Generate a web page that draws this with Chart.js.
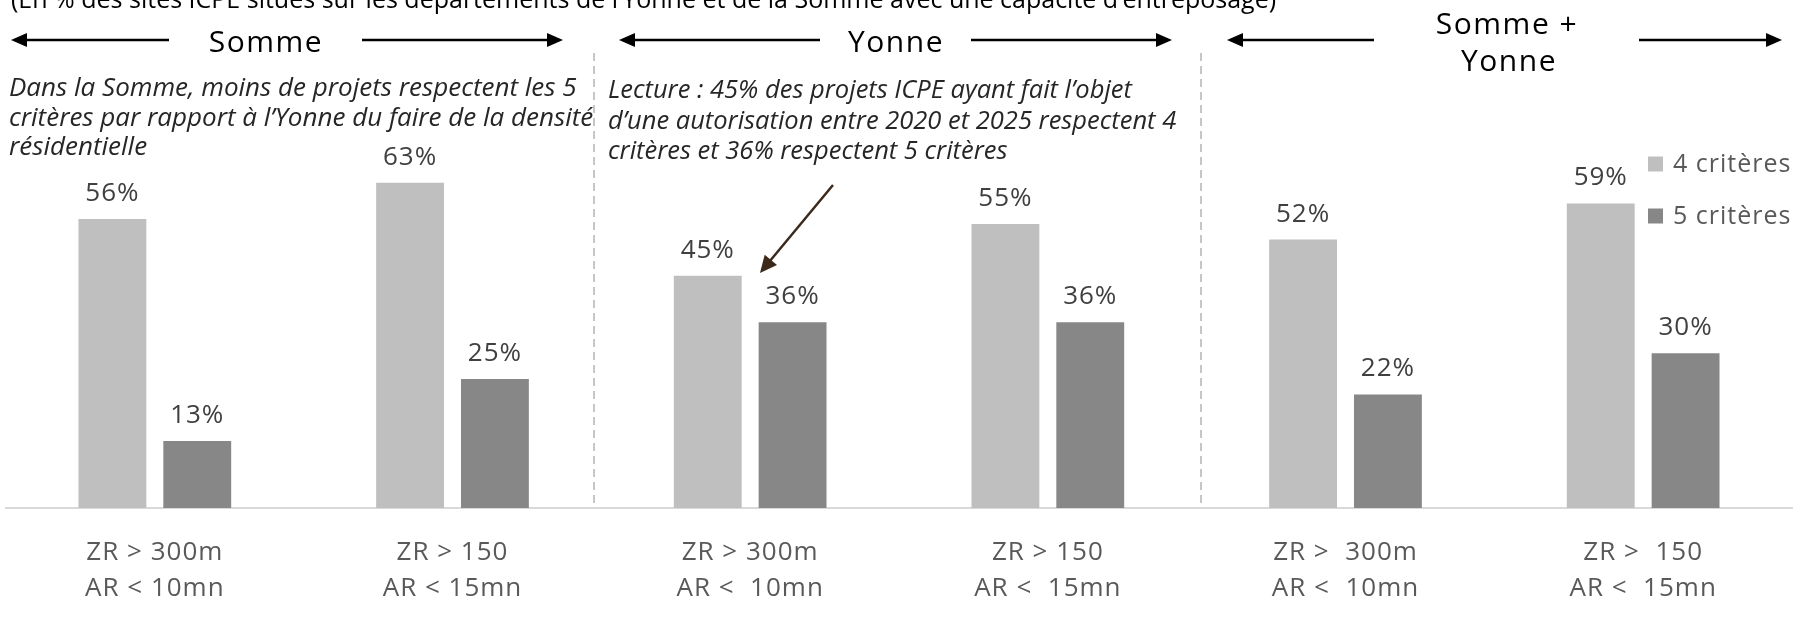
<!DOCTYPE html>
<html lang="fr">
<head>
  <meta charset="UTF-8">
  <title>Critères ZR / AR - Somme et Yonne</title>
  <script src="https://cdn.jsdelivr.net/npm/chart.js"></script>
  <style>
    * { margin: 0; padding: 0; box-sizing: border-box; }
    body { background: #fff; width: 1795px; height: 627px; overflow: hidden; }
    #chart { display: block; }
  </style>
</head>
<body>
  <canvas id="chart" width="1795" height="627"></canvas>

  <script>
    // --- Data ---
    const categories = [
      ['ZR > 300m', 'AR < 10mn'],
      ['ZR > 150', 'AR < 15mn'],
      ['ZR > 300m', 'AR <  10mn'],
      ['ZR > 150', 'AR <  15mn'],
      ['ZR >  300m', 'AR <  10mn'],
      ['ZR >  150', 'AR <  15mn']
    ];
    const crit4 = [56, 63, 45, 55, 52, 59];
    const crit5 = [13, 25, 36, 36, 22, 30];
    const seriesNames = ['4 critères', '5 critères'];
    const seriesColors = ['#bfbfbf', '#878787'];

    const subtitle = '(En % des sites ICPE situés sur les départements de l\u2019Yonne et de la Somme avec une capacité d\u2019entreposage)';
    const noteLeft = [
      'Dans la Somme, moins de projets respectent les 5',
      'critères par rapport à l\u2019Yonne du faire de la densité',
      'résidentielle'
    ];
    const noteRight = [
      'Lecture : 45% des projets ICPE ayant fait l\u2019objet',
      'd\u2019une autorisation entre 2020 et 2025 respectent 4',
      'critères et 36% respectent 5 critères'
    ];

    // simple filled-head arrow
    function arrow(ctx, x1, y1, x2, y2, color, lw, headLen, headW) {
      const a = Math.atan2(y2 - y1, x2 - x1);
      const c = Math.cos(a), s = Math.sin(a);
      ctx.strokeStyle = color;
      ctx.fillStyle = color;
      ctx.lineWidth = lw;
      ctx.beginPath();
      ctx.moveTo(x1, y1);
      ctx.lineTo(x2 - c * headLen * 0.8, y2 - s * headLen * 0.8);
      ctx.stroke();
      ctx.beginPath();
      ctx.moveTo(x2, y2);
      ctx.lineTo(x2 - c * headLen - s * headW, y2 - s * headLen + c * headW);
      ctx.lineTo(x2 - c * headLen + s * headW, y2 - s * headLen - c * headW);
      ctx.closePath();
      ctx.fill();
    }

    // --- Extra drawing: value labels, headers, notes, legend ---
    const decorations = {
      id: 'decorations',
      beforeDraw(chart) {
        chart.ctx.letterSpacing = '1px';
      },
      beforeDatasetsDraw(chart) {
        const ctx = chart.ctx;
        const bottom = chart.chartArea.bottom;
        ctx.save();
        ctx.strokeStyle = '#b4b4b4';
        ctx.lineWidth = 1.5;
        ctx.setLineDash([8, 5]);
        [594, 1201].forEach(x => {
          ctx.beginPath();
          ctx.moveTo(x, 53);
          ctx.lineTo(x, bottom);
          ctx.stroke();
        });
        ctx.restore();
      },
      afterDatasetsDraw(chart) {
        const ctx = chart.ctx;
        ctx.save();
        ctx.letterSpacing = '1px';
        ctx.font = '26px "Open Sans"';
        ctx.fillStyle = '#404040';
        ctx.textAlign = 'center';
        ctx.textBaseline = 'alphabetic';
        chart.data.datasets.forEach((ds, i) => {
          chart.getDatasetMeta(i).data.forEach((bar, j) => {
            ctx.fillText(ds.data[j] + '%', bar.x, bar.y - 18);
          });
        });
        ctx.restore();
      },
      afterDraw(chart) {
        const ctx = chart.ctx;
        ctx.save();

        // subtitle, cut at the top edge
        ctx.letterSpacing = '0px';
        ctx.fillStyle = '#000';
        ctx.textAlign = 'left';
        ctx.textBaseline = 'alphabetic';
        ctx.font = '25px "Open Sans"';
        ctx.fillText(subtitle, 11, 8);

        // section headers
        ctx.letterSpacing = '1.5px';
        ctx.font = '30px "Open Sans"';
        ctx.textAlign = 'center';
        ctx.fillText('Somme', 266, 52);
        ctx.fillText('Yonne', 896, 52);
        ctx.fillText('Somme +', 1507, 34);
        ctx.fillText('Yonne', 1509, 71);

        // header arrows
        const black = '#000';
        arrow(ctx, 169, 40, 11, 40, black, 2.5, 16, 7);
        arrow(ctx, 362, 40, 563, 40, black, 2.5, 16, 7);
        arrow(ctx, 820, 40, 619, 40, black, 2.5, 16, 7);
        arrow(ctx, 971, 40, 1172, 40, black, 2.5, 16, 7);
        arrow(ctx, 1374, 40, 1227, 40, black, 2.5, 16, 7);
        arrow(ctx, 1639, 40, 1782, 40, black, 2.5, 16, 7);

        // italic notes
        ctx.letterSpacing = '0px';
        ctx.textAlign = 'left';
        ctx.fillStyle = '#262626';
        ctx.font = 'italic 26px "Open Sans"';
        noteLeft.forEach((t, i) => ctx.fillText(t, 9, 96 + i * 29.5));
        ctx.font = 'italic 25.5px "Open Sans"';
        noteRight.forEach((t, i) => ctx.fillText(t, 608, 98 + i * 30.5));

        // callout arrow
        arrow(ctx, 833, 185, 760, 273, '#3b2a1c', 2.5, 17, 8);

        // legend
        ctx.letterSpacing = '1px';
        ctx.font = '25px "Open Sans"';
        ctx.textBaseline = 'middle';
        seriesNames.forEach((name, i) => {
          const y = 164 + i * 52;
          ctx.fillStyle = seriesColors[i];
          ctx.fillRect(1648, y - 7.5, 15, 15);
          ctx.fillStyle = '#595959';
          ctx.fillText(name, 1673, y + 1);
        });

        ctx.restore();
      }
    };

    const chart = new Chart(document.getElementById('chart'), {
      type: 'bar',
      data: {
        labels: categories,
        datasets: [
          { label: seriesNames[0], data: crit4, backgroundColor: seriesColors[0] },
          { label: seriesNames[1], data: crit5, backgroundColor: seriesColors[1] }
        ]
      },
      options: {
        responsive: false,
        animation: false,
        categoryPercentage: 0.57,
        barPercentage: 0.8,
        layout: { padding: { top: 95, left: 6, right: 3, bottom: 0 } },
        plugins: {
          legend: { display: false },
          tooltip: { enabled: false }
        },
        scales: {
          x: {
            grid: { display: false, drawTicks: false },
            border: { display: true, color: '#d9d9d9', width: 2 },
            ticks: {
              color: '#595959',
              font: { family: '"Open Sans"', size: 26, lineHeight: 1.385 },
              padding: 27,
              maxRotation: 0,
              autoSkip: false
            },
            afterFit(scale) { scale.height = 119; }
          },
          y: {
            display: false,
            min: 0,
            max: 80
          }
        }
      },
      plugins: [decorations]
    });
  </script>
</body>
</html>
